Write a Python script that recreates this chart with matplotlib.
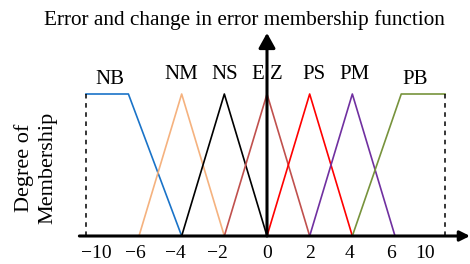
import numpy as np
import matplotlib
matplotlib.use("Agg")
import matplotlib.pyplot as plt

plt.rcParams['font.family'] = ['Liberation Serif', 'DejaVu Serif']

# membership functions (x breakpoints, degree)
names = ["NB", "NM", "NS", "EZ", "PS", "PM", "PB"]
xs = [
    [-10, -6.8, -4],
    [-6, -4, -2],
    [-4, -2, 0],
    [-2, 0, 2],
    [0, 2, 4],
    [2, 4, 6],
    [4, 6.5, 10],
]
ys = [
    [1, 1, 0],
    [0, 1, 0],
    [0, 1, 0],
    [0, 1, 0],
    [0, 1, 0],
    [0, 1, 0],
    [0, 1, 1],
]
colors = ["#1a73c8", "#f5b27f", "black", "#c0504d", "red", "#7030a0", "#77933c"]
label_x = [-8.2, -4, -2, 0, 2.2, 4.1, 7.6]
label_y = [1.1, 1.14, 1.14, 1.14, 1.14, 1.14, 1.1]

tick_vals = [-10, -6, -4, -2, 0, 2, 4, 6, 10]
tick_pos = [-9.2, -6.25, -4.3, -2.3, 0, 2, 3.85, 5.8, 8.4]
tick_text = ["\u221210", "\u22126", "\u22124", "\u22122", "0", "2", "4", "6", "10"]

# the drawing squeezes the outer parts of the axis
knot_v = [-20, -10, -6, 6, 10, 20]
knot_p = [-46.5, 86, 139, 395, 445, 570]


def fwd(v):
    return np.interp(v, knot_v, knot_p)


def inv(p):
    return np.interp(p, knot_p, knot_v)


fig = plt.figure(figsize=(4.7, 2.64), dpi=100)
ax = fig.add_axes([0, 0, 1, 1])
ax.set_xscale('function', functions=(fwd, inv))
ax.set_xlim(inv(0), inv(470))
ax.set_ylim(-28 / 142, 236 / 142)
ax.axis('off')

for x, y, c in zip(xs, ys, colors):
    ax.plot(x, y, color=c, lw=1.2)

for v in [-10, 10]:
    ax.plot([v, v], [0, 1], color='black', lw=1.1, ls=(0, (3, 3)))

# axes with arrows
ax.annotate("", xy=(12, 0), xytext=(-10.5, 0),
            arrowprops=dict(arrowstyle="-|>,head_length=0.6,head_width=0.3",
                            color='black', lw=2.2, shrinkA=0, shrinkB=0))
ax.annotate("", xy=(0, 1.43), xytext=(0, 0),
            arrowprops=dict(arrowstyle="-|>,head_length=0.9,head_width=0.5",
                            color='black', lw=2.2, shrinkA=0, shrinkB=0))

for n, lx, ly in zip(names, label_x, label_y):
    t = "E Z" if n == "EZ" else n
    ax.text(lx, ly, t, ha='center', va='center', fontsize=15)

for p, t in zip(tick_pos, tick_text):
    ax.text(p, -0.12, t, ha='center', va='center', fontsize=14)

fig.text(244 / 470, 1 - 20 / 264, "Error and change in error membership function",
         ha='center', va='center', fontsize=15.3)
fig.text(36 / 470, 1 - 168 / 264, "Degree of\nMembership", ha='center', va='center',
         rotation=90, fontsize=16, linespacing=1.3)

fig.savefig("out.png", dpi=100)
